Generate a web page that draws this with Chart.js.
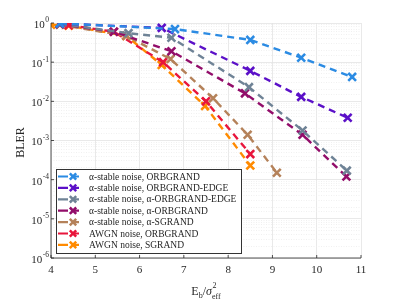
<!DOCTYPE html>
<html>
<head>
<meta charset="utf-8">
<script src="https://cdn.jsdelivr.net/npm/chart.js@4.4.1/dist/chart.umd.min.js"></script>
<style>
  html, body { margin: 0; padding: 0; background: #fff; }
  #wrap { width: 399px; height: 299px; }
</style>
</head>
<body>
<div id="wrap"><canvas id="bler-chart"></canvas></div>
<script>
// series labels, in legend order
const seriesLabels = [
  'α-stable noise, ORBGRAND',
  'α-stable noise, ORBGRAND-EDGE',
  'α-stable noise, α-ORBGRAND-EDGE',
  'α-stable noise, α-ORBGRAND',
  'α-stable noise, α-SGRAND',
  'AWGN noise, ORBGRAND',
  'AWGN noise, SGRAND'
];
const seriesColors = ['#2b8be3', '#5b10c8', '#6f8396', '#920d6a', '#b5825a', '#e8163c', '#ff8a00'];

// Eb/sigma^2_eff (x) and BLER (y)
const orbX = [4.2, 6.8, 8.5, 9.65, 10.8];
const orbY = [0.98, 0.7, 0.37, 0.13, 0.042];
const orbEdgeX = [4.2, 6.5, 8.5, 9.65, 10.7];
const orbEdgeY = [0.97, 0.75, 0.06, 0.013, 0.0038];
const aOrbEdgeX = [4.2, 5.75, 6.72, 8.47, 9.68, 10.68];
const aOrbEdgeY = [0.95, 0.55, 0.42, 0.023, 0.0018, 0.00017];
const aOrbX = [4.2, 5.42, 6.72, 8.38, 9.68, 10.67];
const aOrbY = [0.93, 0.6, 0.19, 0.016, 0.0014, 0.00012];
const aSgrandX = [4.2, 5.7, 6.7, 7.66, 8.44, 9.1];
const aSgrandY = [0.9, 0.47, 0.12, 0.012, 0.0014, 0.00015];
const awgnOrbX = [4.4, 5.42, 6.53, 7.5, 8.5];
const awgnOrbY = [0.88, 0.6, 0.1, 0.01, 0.00045];
const awgnSgrandX = [4.0, 4.4, 5.7, 6.5, 7.48, 8.5];
const awgnSgrandY = [0.9, 0.85, 0.47, 0.085, 0.0076, 0.00023];

const xTicks = [4, 5, 6, 7, 8, 9, 10, 11];
const yDecades = [0, -1, -2, -3, -4, -5, -6];

const allX = [orbX, orbEdgeX, aOrbEdgeX, aOrbX, aSgrandX, awgnOrbX, awgnSgrandX];
const allY = [orbY, orbEdgeY, aOrbEdgeY, aOrbY, aSgrandY, awgnOrbY, awgnSgrandY];

const SERIF = '"Liberation Serif", "Times New Roman", serif';

function makePoints(xs, ys) {
  return xs.map((x, i) => ({ x: x, y: ys[i] }));
}

const datasets = seriesLabels.map((label, i) => ({
  label: label,
  data: makePoints(allX[i], allY[i]),
  borderColor: seriesColors[i],
  backgroundColor: seriesColors[i],
  borderWidth: 2.4,
  borderDash: [7, 5],
  pointStyle: 'crossRot',
  pointRadius: 5.5,
  pointBorderWidth: 2.6,
  tension: 0
}));

/**
 * Draws tick labels with superscripts, the axis titles and the legend box
 */
const decorPlugin = {
  id: 'decor',
  afterDraw(chart) {
    const ctx = chart.ctx;
    const area = chart.chartArea;
    const xs = chart.scales.x;
    const ys = chart.scales.y;
    ctx.save();
    ctx.fillStyle = '#262626';

    // y tick labels 10^k
    const baseF = '11px ' + SERIF;
    const expF = '7.5px ' + SERIF;
    yDecades.forEach(k => {
      const py = ys.getPixelForValue(Math.pow(10, k));
      const exp = String(k);
      ctx.font = expF;
      const ew = ctx.measureText(exp).width;
      ctx.font = baseF;
      const bw = ctx.measureText('10').width;
      const right = area.left - 2;
      ctx.textBaseline = 'middle';
      ctx.textAlign = 'left';
      ctx.fillText('10', right - ew - bw - 0.5, py + 2);
      ctx.font = expF;
      ctx.fillText(exp, right - ew, py - 2.5);
    });

    // x tick labels
    ctx.font = baseF;
    ctx.textAlign = 'center';
    ctx.textBaseline = 'middle';
    xTicks.forEach(v => {
      ctx.fillText(String(v), xs.getPixelForValue(v), area.bottom + 12);
    });

    // x title: Eb / sigma^2_eff
    const cx = (area.left + area.right) / 2;
    const ty = area.bottom + 37;
    ctx.textBaseline = 'alphabetic';
    ctx.textAlign = 'left';
    const mainF = '12px ' + SERIF;
    const subF = '8px ' + SERIF;
    const italF = 'italic 12px ' + SERIF;
    const parts = [
      ['E', mainF, 0], ['b', subF, 3], ['/', mainF, 0], ['σ', italF, 0]
    ];
    let total = 0;
    parts.forEach(p => { ctx.font = p[1]; total += ctx.measureText(p[0]).width; });
    ctx.font = subF;
    total += ctx.measureText('eff').width;
    let px = cx - total / 2;
    parts.forEach(p => {
      ctx.font = p[1];
      ctx.fillText(p[0], px, ty + p[2]);
      px += ctx.measureText(p[0]).width;
    });
    ctx.font = subF;
    ctx.fillText('2', px + 0.5, ty - 7);
    ctx.fillText('eff', px, ty + 4);

    // y title
    ctx.save();
    ctx.translate(21, (area.top + area.bottom) / 2 + 2);
    ctx.rotate(-Math.PI / 2);
    ctx.font = '12px ' + SERIF;
    ctx.textAlign = 'center';
    ctx.textBaseline = 'middle';
    ctx.fillText('BLER', 0, 0);
    ctx.restore();

    // legend box
    const lx = 56, ly = 169, lw = 185, lh = 84;
    ctx.fillStyle = '#ffffff';
    ctx.fillRect(lx, ly, lw, lh);
    ctx.strokeStyle = '#333333';
    ctx.lineWidth = 1;
    ctx.strokeRect(lx + 0.5, ly + 0.5, lw, lh);
    const rowH = 11.4;
    seriesLabels.forEach((label, i) => {
      const ry = ly + 7.5 + i * rowH;
      ctx.strokeStyle = seriesColors[i];
      ctx.lineWidth = 2.2;
      ctx.beginPath();
      ctx.moveTo(lx + 2, ry);
      ctx.lineTo(lx + 12, ry);
      ctx.moveTo(lx + 17, ry);
      ctx.lineTo(lx + 23, ry);
      ctx.stroke();
      const mx = lx + 17, d = 3.2;
      ctx.lineWidth = 2.5;
      ctx.beginPath();
      ctx.moveTo(mx - d, ry - d); ctx.lineTo(mx + d, ry + d);
      ctx.moveTo(mx - d, ry + d); ctx.lineTo(mx + d, ry - d);
      ctx.stroke();
      ctx.fillStyle = '#262626';
      ctx.font = '9.5px ' + SERIF;
      ctx.textAlign = 'left';
      ctx.textBaseline = 'middle';
      ctx.fillText(label, lx + 33, ry + 0.5);
    });

    // axis lines and inward ticks
    ctx.strokeStyle = '#262626';
    ctx.lineWidth = 0.8;
    ctx.beginPath();
    ctx.moveTo(area.left, area.top);
    ctx.lineTo(area.left, area.bottom);
    ctx.lineTo(area.right, area.bottom);
    xTicks.forEach(v => {
      const p = xs.getPixelForValue(v);
      ctx.moveTo(p, area.bottom);
      ctx.lineTo(p, area.bottom - 3);
    });
    yDecades.forEach(k => {
      const p = ys.getPixelForValue(Math.pow(10, k));
      ctx.moveTo(area.left, p);
      ctx.lineTo(area.left + 3, p);
    });
    ctx.stroke();
    ctx.restore();
  }
};

new Chart(document.getElementById('bler-chart'), {
  type: 'line',
  data: { datasets: datasets },
  options: {
    responsive: true,
    maintainAspectRatio: false,
    animation: false,
    layout: { padding: { top: 23, right: 38, left: 0, bottom: 0 } },
    plugins: {
      legend: { display: false },
      tooltip: { enabled: false }
    },
    scales: {
      x: {
        type: 'linear',
        min: 4,
        max: 11,
        afterBuildTicks: (scale) => { scale.ticks = xTicks.map(v => ({ value: v })); },
        afterFit: (scale) => { scale.height = 41; },
        ticks: { display: false },
        grid: { color: '#e3e3e3', lineWidth: 0.8, drawTicks: false },
        border: { display: false }
      },
      y: {
        type: 'logarithmic',
        min: 1e-6,
        max: 1,
        afterFit: (scale) => { scale.width = 51; },
        ticks: { display: false, autoSkip: false },
        grid: {
          drawTicks: false,
          lineWidth: 0.8,
          color: (c) => (c.tick && c.tick.major) ? '#e3e3e3' : '#ececec'
        },
        border: {
          display: false,
          dash: (c) => (c.tick && c.tick.major) ? [] : [1, 1.5]
        }
      }
    }
  },
  plugins: [decorPlugin]
});
</script>
</body>
</html>
